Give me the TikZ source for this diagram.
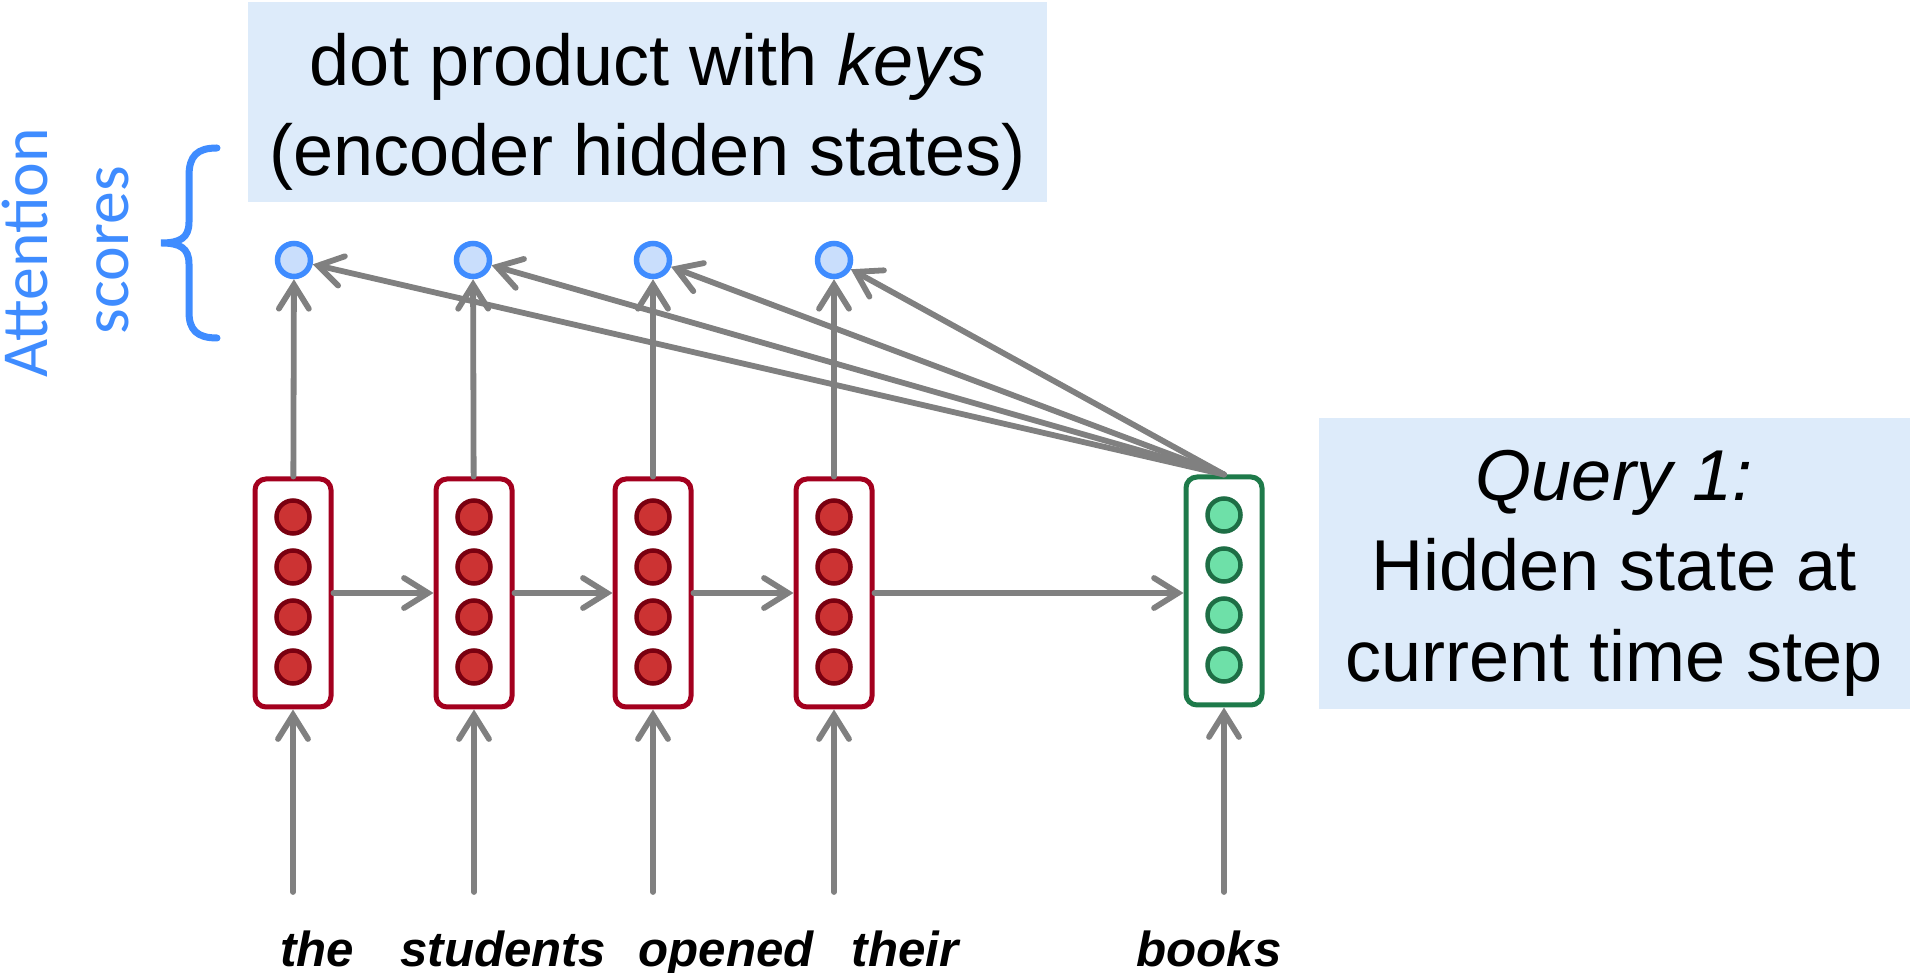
\documentclass[tikz,border=0pt]{standalone}
\usepackage{fontspec}
\setmainfont{Liberation Sans}
\newfontfamily\sidefont{Carlito}
\usetikzlibrary{arrows.meta,positioning}
\definecolor{PaleBlue}{HTML}{DDEBFA}
\definecolor{ScoreBlue}{HTML}{3F8CFF}
\definecolor{ScoreFill}{HTML}{C9DEFC}
\definecolor{Crimson}{HTML}{A3001E}
\definecolor{Maroon}{HTML}{7A0010}
\definecolor{Brick}{HTML}{CC3333}
\definecolor{Pine}{HTML}{1E7A4A}
\definecolor{DarkPine}{HTML}{1E6E45}
\definecolor{Mint}{HTML}{6EE0A8}
\definecolor{Slate}{HTML}{808080}
\tikzset{
  panel/.style={fill=PaleBlue, inner sep=0pt},
  caption/.style={align=center, inner sep=0pt, font=\fontsize{20.5}{25.7}\selectfont},
  side/.style={rotate=90, anchor=base, inner sep=0pt, text=ScoreBlue,
    font=\sidefont\fontsize{18.7}{20}\selectfont},
  score/.style={circle, draw=ScoreBlue, fill=ScoreFill, line width=0.55mm,
    minimum size=3.3mm, inner sep=0pt},
  encbox/.style={rounded corners=1.1mm, draw=Crimson, line width=0.5mm,
    minimum width=7.6mm, minimum height=22.8mm, inner sep=0pt},
  decbox/.style={encbox, draw=Pine},
  unit/.style={circle, draw=Maroon, fill=Brick, line width=0.45mm,
    minimum size=3.3mm, inner sep=0pt},
  qunit/.style={unit, draw=DarkPine, fill=Mint},
  word/.style={anchor=base, inner sep=0pt, font=\fontsize{14}{16}\selectfont\bfseries\itshape},
  flow/.style={-{Straight Barb[length=2.4mm,width=3mm,line cap=round]},
    line width=0.58mm, draw=Slate, line cap=round}
}
\begin{document}
\begin{tikzpicture}[x=0.1mm,y=-0.1mm]
  \useasboundingbox (0,0) rectangle (1913,973);
  % blue panels
  \node[panel,minimum width=79.9mm,minimum height=20mm] (keys) at (647.5,102) {};
  \node[caption] (keystext) at (647.5,112) {dot product with \textit{keys}\\(encoder hidden states)};
  \node[panel,minimum width=59.1mm,minimum height=29.1mm] (query) at (1614.5,563.5) {};
  \node[caption] (querytext) at (1614,573) {\textit{Query 1:}\\Hidden state at\\current time step};
  % side label and brace
  \node[side] (attn) at (47,253) {Attention};
  \node[side] (scores) at (128,250) {scores};
  \draw[ScoreBlue,line width=0.7mm,line cap=round]
    (217,148) .. controls (197,148) and (189,156) .. (189,176) -- (189,222)
    .. controls (189,238) and (180,243) .. (161,243)
    .. controls (180,243) and (189,248) .. (189,264) -- (189,312)
    .. controls (189,330) and (197,338) .. (217,338);
  % scores
  \node[score] (s1) at (294,260) {};
  \node[score] (s2) at (473,260) {};
  \node[score] (s3) at (653,260) {};
  \node[score] (s4) at (834,260) {};
  % hidden states
  \node[encbox] (h1) at (293,593) {};
  \node[encbox] (h2) at (474,593) {};
  \node[encbox] (h3) at (653,593) {};
  \node[encbox] (h4) at (834,593) {};
  \node[decbox] (h5) at (1224,591) {};
  \foreach \x/\n in {293/1,474/2,653/3,834/4}
    \foreach \y/\k in {517/1,567/2,617/3,667/4}
      \node[unit] (u\n\k) at (\x,\y) {};
  \foreach \y/\k in {515/1,565/2,615/3,665/4}
    \node[qunit] (q\k) at (1224,\y) {};
  % words
  \node[word] (the) at (317,966) {the};
  \node[word] (students) at (503,966) {students};
  \node[word] (opened) at (726,966) {opened};
  \node[word] (their) at (905,966) {their};
  \node[word] (books) at (1209,966) {books};
  \coordinate (w1) at (293,892);
  \coordinate (w2) at (474,892);
  \coordinate (w3) at (653,892);
  \coordinate (w4) at (834,892);
  \coordinate (w5) at (1224,892);
  % connectors
  \draw[flow] (w1) -- (h1);
  \draw[flow] (w2) -- (h2);
  \draw[flow] (w3) -- (h3);
  \draw[flow] (w4) -- (h4);
  \draw[flow] (w5) -- (h5);
  \draw[flow] (h1) -- (h2);
  \draw[flow] (h2) -- (h3);
  \draw[flow] (h3) -- (h4);
  \draw[flow] (h4.east) -- (h4.east -| h5.west);
  \draw[flow] (h1) -- (s1);
  \draw[flow] (h2) -- (s2);
  \draw[flow] (h3) -- (s3);
  \draw[flow] (h4) -- (s4);
  \draw[flow] (h5.north) -- (s1);
  \draw[flow] (h5.north) -- (s2);
  \draw[flow] (h5.north) -- (s3);
  \draw[flow] (h5.north) -- (s4);
\end{tikzpicture}
\end{document}
